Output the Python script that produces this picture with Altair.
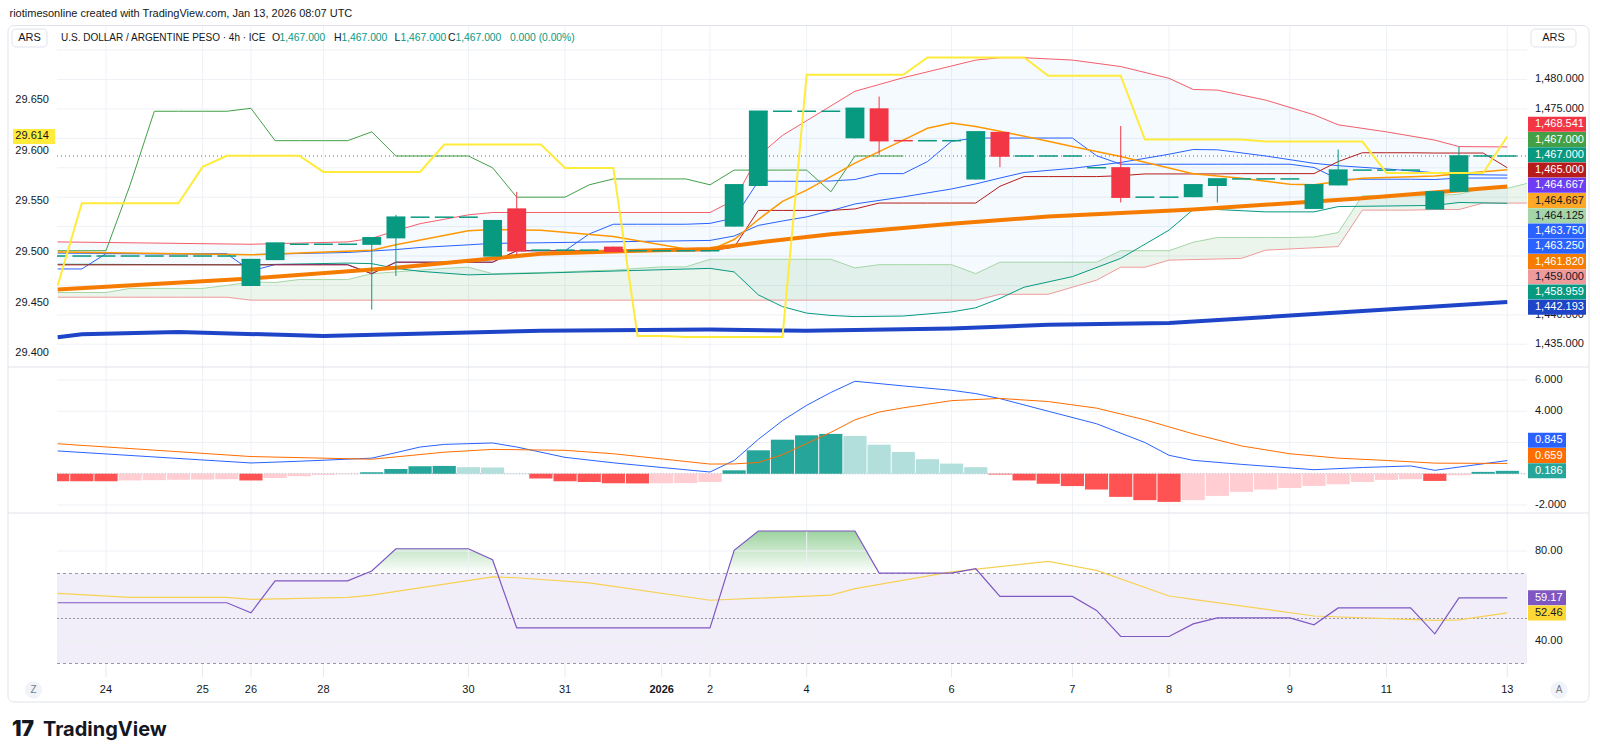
import altair as alt
import pandas as pd

FONT = "Liberation Sans, Arial, sans-serif"
INK = "#131722"
GRID = "#EEF1F6"
UP, DOWN = "#089981", "#F23645"

# plot-area geometry of the three panes
W = 1470
H_P, H_M, H_R = 341, 146, 154
X_DOM = [-2.028, 58.816]
P_DOM = [1431.14, 1489.09]
L_DOM = [29.3864, 29.7231]
M_DOM = [-2.512, 6.832]
R_DOM = [28.44, 96.89]

# ---------- time axis: one unit per 4h bar, bar 0 = Dec 24 ----------
bars = list(range(-2, 59))
tick_bar = [0, 4, 6, 9, 15, 19, 23, 25, 29, 35, 40, 44, 49, 53, 58]
tick_lbl = ["24", "25", "26", "28", "30", "31", "2026", "2", "4", "6", "7", "8", "9", "11", "13"]
# scale labels that stay visible beside the value tags
price_ticks = [1435, 1440, 1475, 1480]
price_grid = [1435, 1440, 1445, 1450, 1455, 1460, 1465, 1470, 1475, 1480, 1485]
left_ticks = [29.40, 29.45, 29.50, 29.55, 29.60, 29.65]
macd_ticks = [-2, 4, 6]
macd_grid = [-2, 0, 2, 4, 6]
rsi_ticks = [40, 80]
rsi_grid = [40, 60, 80]

# ---------- USD/ARS 4h candles ----------
open_ = [1450.0, 1450.0, 1450.0, 1450.0, 1450.0, 1450.0, 1450.0, 1450.0,
         1444.9, 1449.3, 1452.0, 1452.0, 1452.0, 1451.9, 1453.0,
         1456.6, 1456.6, 1456.6, 1449.9, 1458.1, 1451.0, 1451.0, 1451.0,
         1451.6, 1450.9, 1450.9, 1450.9, 1450.9, 1455.0, 1461.9,
         1474.6, 1474.6, 1474.6, 1470.0, 1475.1, 1469.7, 1469.6, 1469.6,
         1463.0, 1471.1, 1467.0, 1467.0, 1467.0, 1465.0, 1465.1,
         1460.0, 1460.0, 1460.0, 1461.9, 1463.1, 1463.1, 1463.1,
         1458.0, 1462.0, 1464.6, 1464.6, 1464.6, 1457.9, 1460.9,
         1467.0, 1467.0]
high = [1450.0, 1450.0, 1450.0, 1450.0, 1450.0, 1450.0, 1450.0, 1450.0,
        1449.4, 1452.2, 1452.0, 1452.0, 1452.0, 1453.1, 1457.0,
        1456.6, 1456.6, 1456.6, 1456.0, 1460.9, 1451.0, 1451.0, 1451.0,
        1451.6, 1450.9, 1450.9, 1450.9, 1450.9, 1462.1, 1474.6,
        1474.6, 1474.6, 1474.6, 1475.1, 1477.1, 1469.7, 1469.6, 1469.6,
        1471.1, 1471.1, 1467.0, 1467.0, 1467.0, 1465.0, 1472.1,
        1460.0, 1460.0, 1462.1, 1463.1, 1463.1, 1463.1, 1463.1,
        1462.1, 1468.1, 1464.6, 1464.6, 1464.6, 1460.9, 1468.6,
        1467.0, 1467.0]
low = [1450.0, 1450.0, 1450.0, 1450.0, 1450.0, 1450.0, 1450.0, 1450.0,
       1444.9, 1449.3, 1452.0, 1452.0, 1452.0, 1440.9, 1446.6,
       1456.6, 1456.6, 1456.6, 1449.9, 1450.2, 1451.0, 1451.0, 1451.0,
       1450.8, 1450.9, 1450.9, 1450.9, 1450.9, 1455.0, 1461.9,
       1474.6, 1474.6, 1474.6, 1470.0, 1467.2, 1469.6, 1469.6, 1469.6,
       1463.0, 1465.1, 1467.0, 1467.0, 1467.0, 1465.0, 1459.1,
       1460.0, 1460.0, 1460.0, 1459.1, 1463.1, 1463.1, 1463.1,
       1458.0, 1462.0, 1464.6, 1464.6, 1464.6, 1457.9, 1460.9,
       1467.0, 1467.0]
close = [1450.0, 1450.0, 1450.0, 1450.0, 1450.0, 1450.0, 1450.0, 1450.0,
         1449.4, 1452.2, 1452.0, 1452.0, 1452.0, 1453.1, 1456.6,
         1456.6, 1456.6, 1456.6, 1456.0, 1450.9, 1451.0, 1451.0, 1451.0,
         1450.8, 1450.9, 1450.9, 1450.9, 1450.9, 1462.1, 1474.6,
         1474.6, 1474.6, 1474.6, 1475.1, 1469.6, 1469.6, 1469.6, 1469.6,
         1471.1, 1467.0, 1467.0, 1467.0, 1467.0, 1465.0, 1460.0,
         1460.0, 1460.0, 1462.1, 1463.1, 1463.1, 1463.1, 1463.1,
         1462.1, 1464.6, 1464.6, 1464.6, 1464.6, 1460.9, 1467.0,
         1467.0, 1467.0]

# ---------- Bollinger Bands ----------
bb_bar = [-2, 6, 10, 11, 12, 13, 15, 16, 18, 25, 26, 27, 28, 29, 30, 31, 33,
          35, 36, 37, 38, 40, 42, 44, 45, 46, 48, 50, 51, 53, 55, 56, 58]
bb_upper = [1452.4, 1452.0, 1452.4, 1453.0, 1454.3, 1455.5, 1457.0, 1457.4, 1457.4,
            1457.4, 1459.5, 1467.0, 1470.5, 1473.0, 1475.5, 1478.0, 1480.3,
            1482.3, 1483.3, 1483.7, 1483.7, 1483.3, 1482.2, 1480.2, 1478.3, 1478.2,
            1476.5, 1474.0, 1472.3, 1471.1, 1469.7, 1468.6, 1468.541]
bb_lower = [1448.6, 1448.5, 1448.8, 1448.7, 1447.9, 1447.4, 1446.8, 1446.9, 1447.1,
            1447.9, 1447.3, 1443.4, 1441.4, 1440.3, 1439.9, 1439.7, 1439.8,
            1440.5, 1441.2, 1442.8, 1444.7, 1446.5, 1449.6, 1454.4, 1457.9, 1457.9,
            1457.5, 1457.5, 1458.4, 1458.5, 1458.6, 1459.1, 1458.959]

# ---------- Ichimoku ----------
tenkan = [1447.8, 1447.8, 1450.4, 1450.4, 1450.4, 1450.4, 1450.4, 1450.4,
          1447.45, 1448.55, 1448.55, 1448.55, 1448.55, 1447.0,
          1448.95, 1448.95, 1448.95, 1448.95, 1448.95, 1450.9, 1450.9, 1450.9,
          1453.75, 1455.4, 1455.4, 1455.4, 1455.4, 1455.55, 1456.45,
          1462.7, 1462.7, 1462.7, 1462.75, 1463.0, 1464.0, 1464.0, 1466.05, 1469.5,
          1470.05, 1470.05, 1470.05, 1470.05, 1470.05, 1467.05,
          1465.6, 1465.6, 1465.6, 1465.6, 1465.6, 1465.6, 1465.6, 1465.6,
          1465.05, 1463.05, 1463.05, 1463.05, 1463.05, 1463.0,
          1463.25, 1463.25, 1463.25]
kijun = [1448.5, 1448.5, 1448.5, 1448.5, 1448.5, 1448.5, 1448.5, 1448.5, 1448.5,
         1448.5, 1448.5, 1448.5, 1448.5, 1447.0,
         1448.95, 1448.95, 1448.95, 1448.95, 1448.95,
         1450.9, 1450.9, 1450.9, 1450.9, 1450.9, 1450.9, 1450.9, 1450.9, 1450.9,
         1451.5, 1457.75, 1457.75, 1457.75, 1457.75, 1458.0,
         1459.0, 1459.0, 1459.0, 1459.0, 1459.0, 1461.85,
         1463.5, 1463.5, 1463.5, 1463.5, 1463.65,
         1463.95, 1463.95, 1463.95, 1463.95, 1464.0, 1464.0, 1464.0, 1464.0,
         1466.05, 1467.55, 1467.55, 1467.55, 1467.5, 1467.5, 1467.5, 1465.0]
span_bar = list(range(-2, 60))
span_a = [1443.8, 1443.8, 1443.8, 1444.5, 1444.5, 1444.5, 1444.5, 1445.0, 1445.6, 1445.5,
          1446.0, 1446.0, 1446.0, 1447.0, 1447.3, 1447.6, 1447.9, 1448.1, 1447.0, 1447.1,
          1447.2, 1447.3, 1447.5, 1447.6, 1447.9, 1448.15, 1448.15,
          1449.45, 1449.45, 1449.45, 1449.45, 1449.45, 1449.45, 1447.98,
          1448.53, 1448.53, 1448.53, 1448.53, 1447.0,
          1448.95, 1448.95, 1448.95, 1448.95, 1448.95, 1450.9, 1450.9, 1450.9,
          1452.33, 1453.15, 1453.15, 1453.15, 1453.15, 1453.23, 1453.98,
          1460.23, 1460.23, 1460.23, 1460.25, 1460.5, 1461.5, 1461.5, 1462.53]
span_b = [1443.0, 1443.0, 1443.0, 1443.0, 1443.0, 1443.0, 1443.0, 1443.0,
          1442.5, 1442.5, 1442.5, 1442.5, 1442.5, 1442.5, 1442.5, 1442.5, 1442.5, 1442.5,
          1442.5, 1442.5, 1442.5, 1442.5, 1442.5, 1442.5, 1442.5, 1442.5, 1442.5, 1442.5,
          1442.5, 1442.5, 1442.5, 1442.5, 1442.5, 1442.5, 1442.5, 1442.5, 1442.5, 1442.5,
          1442.5, 1443.5, 1443.5, 1443.5, 1444.7, 1445.9, 1448.1, 1448.1, 1449.3, 1449.4,
          1449.5, 1449.6, 1451.0, 1451.2, 1451.4, 1451.6, 1457.8, 1457.8, 1457.8,
          1457.9, 1457.9, 1459.0, 1459.0, 1459.0]
LAG = 25

# ---------- moving averages ----------
ma_fast_bar = [-2, 6, 11, 12, 15, 16, 18, 21, 24, 25, 26, 27, 28, 29, 31, 33, 34, 35,
               36, 37, 39, 40, 42, 45, 47, 49, 50, 52, 55, 56, 58]
ma_fast = [1450.7, 1450.2, 1451.0, 1451.9, 1454.3, 1454.5, 1454.4, 1453.3, 1451.2, 1451.0,
           1452.8, 1456.2, 1459.3, 1461.2, 1465.8, 1469.7, 1471.7, 1472.6,
           1472.0, 1471.2, 1469.5, 1468.6, 1466.9, 1464.0, 1463.2, 1462.2, 1462.1, 1463.2,
           1463.6, 1464.0, 1464.667]
ma_violet_last = 1464.667
ema_mid_bar = [-2, 6, 12, 18, 22, 25, 27, 30, 35, 39, 45, 52, 58]
ema_mid = [1444.3, 1446.2, 1448.0, 1450.4, 1450.9, 1451.2, 1452.3, 1453.7, 1455.5,
           1456.7, 1457.9, 1459.8, 1461.82]
ema_slow_bar = [-2, -1, 3, 9, 18, 25, 29, 35, 39, 44, 58]
ema_slow = [1436.2, 1436.7, 1437.1, 1436.4, 1437.3, 1437.5, 1437.3, 1437.7, 1438.3,
            1438.6, 1442.193]

# ---------- comparison symbol (left scale) ----------
cmp_val = [29.467, 29.548, 29.548, 29.548, 29.548, 29.548, 29.584,
           29.595, 29.595, 29.595, 29.595, 29.579, 29.579, 29.579, 29.579, 29.579,
           29.606, 29.606, 29.606, 29.606, 29.606, 29.583, 29.583, 29.583,
           29.417, 29.417, 29.416, 29.416, 29.416, 29.416, 29.416,
           29.675, 29.675, 29.675, 29.675, 29.675, 29.692, 29.692, 29.692, 29.692, 29.692,
           29.674, 29.674, 29.674, 29.674, 29.611, 29.611, 29.611, 29.611, 29.611,
           29.609, 29.609, 29.609, 29.609, 29.609, 29.578, 29.578, 29.578, 29.578, 29.578,
           29.614]

# ---------- MACD ----------
macd_hist = [-0.48, -0.48, -0.48, -0.43, -0.41, -0.39, -0.37, -0.35, -0.43, -0.27, -0.16,
             -0.07, -0.03, 0.09, 0.31, 0.48, 0.50, 0.42, 0.40, 0.02, -0.31, -0.48, -0.53,
             -0.61, -0.62, -0.61, -0.60, -0.53, 0.22, 1.50, 2.18, 2.46, 2.55, 2.42, 1.86,
             1.39, 0.93, 0.65, 0.42, -0.05, -0.43, -0.64, -0.79, -1.01, -1.48, -1.69,
             -1.80, -1.69, -1.42, -1.16, -1.01, -0.91, -0.78, -0.67, -0.53, -0.39, -0.35,
             -0.46, -0.10, 0.12, 0.186]
macd_bar = [-2, 6, 8, 11, 12, 13, 14, 16, 17, 19, 21, 23, 25, 26, 27, 28, 29, 30, 31,
            33, 35, 36, 37, 39, 41, 43, 44, 45, 47, 50, 52, 54, 55, 58]
macd_line = [1.46, 0.69, 0.80, 1.0, 1.35, 1.71, 1.88, 1.97, 1.71, 1.05, 0.70, 0.40, 0.11,
             0.85, 2.2, 3.4, 4.38, 5.2, 5.92, 5.62, 5.34, 5.13, 4.81, 4.0, 3.2, 2.0,
             1.18, 0.86, 0.6, 0.26, 0.40, 0.50, 0.22, 0.845]
sig_bar = [-2, 6, 11, 14, 16, 19, 21, 25, 26, 27, 28, 29, 30, 31, 32, 33, 35, 37, 39,
           41, 43, 45, 47, 49, 51, 53, 55, 58]
sig_line = [1.92, 1.10, 0.93, 1.38, 1.56, 1.50, 1.28, 0.62, 0.63, 0.72, 1.22, 1.93, 2.65,
            3.45, 3.95, 4.22, 4.68, 4.82, 4.62, 4.20, 3.45, 2.55, 1.78, 1.28, 1.00, 0.85,
            0.68, 0.659]

# ---------- RSI ----------
rsi_bar = [-2, 5, 6, 7, 10, 11, 12, 15, 16, 17, 25, 26, 27, 31, 32, 35, 36, 37, 40, 41,
           42, 44, 45, 46, 49, 50, 51, 54, 55, 56, 58]
rsi_line = [57.0, 57.0, 52.5, 66.7, 66.7, 71.1, 81.0, 81.0, 76.1, 45.8, 45.8, 80.3, 88.9,
            88.9, 70.2, 70.2, 72.1, 59.8, 59.8, 53.6, 42.0, 42.0, 47.6, 50.3, 50.3, 47.2,
            54.7, 54.7, 43.2, 59.17, 59.17]
rsi_ma_bar = [-2, 1, 5, 6, 10, 11, 16, 17, 20, 25, 30, 31, 35, 39, 41, 44, 45, 50, 55,
              56, 58]
rsi_ma = [61.2, 59.4, 59.4, 58.5, 59.4, 60.4, 68.5, 68.1, 65.8, 58.1, 60.4, 63.3, 70.7,
          75.4, 71.4, 60.0, 58.5, 51.1, 49.2, 49.4, 52.46]

# ================= frames =================
ohlc = pd.DataFrame({"bar": bars, "open": open_, "high": high, "low": low, "close": close})
ohlc["b0"] = ohlc["bar"] - 0.39
ohlc["b1"] = ohlc["bar"] + 0.39
ohlc["dir"] = [UP if c >= o else DOWN for o, c in zip(open_, close)]

bb = pd.DataFrame({"bar": bb_bar, "up": bb_upper, "lo": bb_lower})
bb["mid"] = (bb["up"] + bb["lo"]) / 2
ich = pd.DataFrame({"bar": bars, "tenkan": tenkan, "kijun": kijun})
lag = pd.DataFrame({"bar": bars[:-LAG], "v": close[LAG:]})
span = pd.DataFrame({"bar": span_bar, "a": span_a, "b": span_b})
cmp_df = pd.DataFrame({"bar": bars, "v": cmp_val})

hist = pd.DataFrame({"bar": bars, "h": macd_hist})
hist["b0"] = hist["bar"] - 0.48
hist["b1"] = hist["bar"] + 0.48
hist["z"] = 0.0
prev = hist["h"].shift(1).fillna(hist["h"].iloc[0])
hist["col"] = [
    ("#26A69A" if p < h else "#B2DFDB") if h >= 0 else ("#FFCDD2" if p < h else "#FF5252")
    for p, h in zip(prev, hist["h"])
]

one = pd.DataFrame({"k": [0]})
ticks_df = pd.DataFrame({"bar": tick_bar, "lbl": tick_lbl})

xs = alt.Scale(domain=X_DOM, nice=False, zero=False)
ps = alt.Scale(domain=P_DOM, nice=False, zero=False)
ls = alt.Scale(domain=L_DOM, nice=False, zero=False)
ms = alt.Scale(domain=M_DOM, nice=False, zero=False)
rs = alt.Scale(domain=R_DOM, nice=False, zero=False)


def X(f="bar"):
    return alt.X(f"{f}:Q", scale=xs, axis=None)


def Yq(f, sc):
    return alt.Y(f"{f}:Q", scale=sc, axis=None)


def line(data, f, color, sc, width=1.0, xf="bar", **kw):
    return alt.Chart(data).mark_line(color=color, strokeWidth=width, clip=True, **kw).encode(
        x=X(xf), y=Yq(f, sc))


def text_at(txt, x, y, size=11, color=INK, align="left", weight="normal", font=FONT):
    return alt.Chart(one).mark_text(text=txt, align=align, baseline="middle", fontSize=size,
                                    color=color, fontWeight=weight, font=font).encode(
        x=alt.value(x), y=alt.value(y))


def box_at(x0, x1, y0, y1, stroke="#E0E3EB", fill="white", radius=4, sw=1):
    return alt.Chart(one).mark_rect(fill=fill, stroke=stroke, strokeWidth=sw,
                                    cornerRadius=radius).encode(
        x=alt.value(x0), x2=alt.value(x1), y=alt.value(y0), y2=alt.value(y1))


def vgrid(h):
    return alt.Chart(ticks_df).mark_rule(color=GRID, strokeWidth=1).encode(
        x=X(), y=alt.value(0), y2=alt.value(h))


def hgrid(vals, sc):
    return alt.Chart(pd.DataFrame({"v": vals})).mark_rule(color=GRID, strokeWidth=1).encode(
        x=alt.value(0), x2=alt.value(W), y=Yq("v", sc))


def scale_labels(vals, fmt, sc, x=1478, align="left"):
    d = pd.DataFrame({"v": vals})
    d["lbl"] = [format(v, fmt) for v in vals]
    return alt.Chart(d).mark_text(align=align, baseline="middle", fontSize=11, font=FONT,
                                  color=INK).encode(x=alt.value(x), y=Yq("v", sc), text="lbl:N")


# ================= price pane =================
canvas = alt.Chart(one).mark_rect(fill="transparent").encode(
    x=alt.value(-57), x2=alt.value(1543), y=alt.value(-26), y2=alt.value(730))
frame = alt.Chart(one).mark_rect(fill="transparent", stroke="#E0E3EB", strokeWidth=1,
                                 cornerRadius=6).encode(
    x=alt.value(-49), x2=alt.value(1532), y=alt.value(-0.5), y2=alt.value(676))

cloud = alt.Chart(span).mark_area(color="#43A047", opacity=0.1, clip=True).encode(
    x=X(), y=Yq("a", ps), y2="b")
bb_fill = alt.Chart(bb).mark_area(color="#2196F3", opacity=0.05, clip=True).encode(
    x=X(), y=Yq("up", ps), y2="lo")

price_lines = [
    line(span, "a", "#A5D6A7", ps),
    line(span, "b", "#EF9A9A", ps),
    line(bb, "lo", UP, ps),
    line(bb, "up", DOWN, ps, opacity=0.8),
    line(bb, "mid", "#2962FF", ps),
    line(ich, "tenkan", "#2962FF", ps),
    line(ich, "kijun", "#B71C1C", ps),
    line(lag, "v", "#43A047", ps),
    line(pd.DataFrame({"bar": ma_fast_bar, "v": ma_fast}), "v", "#FF9800", ps, 1.5),
    line(pd.DataFrame({"bar": ema_slow_bar, "v": ema_slow}), "v", "#1E44C8", ps, 4),
    line(pd.DataFrame({"bar": ema_mid_bar, "v": ema_mid}), "v", "#F57C00", ps, 4),
]

last_px = alt.Chart(pd.DataFrame({"v": [close[-1]]})).mark_rule(
    color=UP, strokeDash=[1, 3], strokeWidth=1).encode(
    x=alt.value(0), x2=alt.value(W), y=Yq("v", ps))

wick = alt.Chart(ohlc).mark_rule(strokeWidth=1, clip=True).encode(
    x=X(), y=Yq("low", ps), y2="high", color=alt.Color("dir:N", scale=None))
body = alt.Chart(ohlc).mark_rect(clip=True).encode(
    x=X("b0"), x2="b1", y=Yq("open", ps), y2="close", color=alt.Color("dir:N", scale=None))
flat = alt.Chart(ohlc).mark_rule(strokeWidth=1.5, clip=True).encode(
    x=X("b0"), x2="b1", y=Yq("close", ps), color=alt.Color("dir:N", scale=None))

# price-scale tags, stacked downward from the top slot
tag_vals = [bb_upper[-1], close[-1], close[-1], kijun[-1], ma_violet_last, ma_fast[-1],
            (tenkan[-1] + kijun[-1]) / 2, (bb_upper[-1] + bb_lower[-1]) / 2, tenkan[-1],
            ema_mid[-1], span_b[-1], bb_lower[-1], ema_slow[-1]]
tag_bg = [DOWN, "#43A047", UP, "#B71C1C", "#6E3CF5", "#FFA726", "#A5D6A7", "#2962FF",
          "#2962FF", "#F57C00", "#EF9A9A", UP, "#1E44C8"]
tag_fg = ["white", "white", "white", "white", "white", INK, INK, "white", "white",
          "white", INK, "white", "white"]
tags = pd.DataFrame({"v": tag_vals, "bg": tag_bg, "fg": tag_fg})
tags["lbl"] = [f"{v:,.3f}" for v in tags["v"]]
tags["py"] = [1472.39 - k * 2.592 for k in range(len(tags))]
tag_box = alt.Chart(tags).mark_rule(strokeWidth=15).encode(
    x=alt.value(1471), x2=alt.value(1529), y=Yq("py", ps), color=alt.Color("bg:N", scale=None))
tag_txt = alt.Chart(tags).mark_text(align="left", baseline="middle", fontSize=11,
                                    font=FONT).encode(
    x=alt.value(1478), y=Yq("py", ps), text="lbl:N", color=alt.Color("fg:N", scale=None))

# legend row
leg = pd.DataFrame({
    "t": ["U.S. DOLLAR / ARGENTINE PESO · 4h · ICE", "O", f"{open_[-1]:,.3f}", "H",
          f"{high[-1]:,.3f}", "L", f"{low[-1]:,.3f}", "C", f"{close[-1]:,.3f}",
          f"{close[-1] - close[-2]:.3f} ({(close[-1] / close[-2] - 1) * 100:.2f}%)"],
    "x": [4, 215, 222.5, 277, 284.5, 337.6, 343.5, 391, 398.5, 453],
    "s": [10, 10.5, 10.3, 10.5, 10.3, 10.5, 10.3, 10.5, 10.3, 10.3],
    "c": [INK, INK, UP, INK, UP, INK, UP, INK, UP, UP],
})
legend = alt.Chart(leg).mark_text(align="left", baseline="middle", font=FONT).encode(
    x=alt.X("x:Q", scale=None), y=alt.value(12), text="t:N",
    size=alt.Size("s:Q", scale=None, legend=None), color=alt.Color("c:N", scale=None))

price_main = alt.layer(
    canvas, vgrid(H_P), hgrid(price_grid, ps), cloud, bb_fill, *price_lines, last_px,
    wick, body, flat, scale_labels(price_ticks, ",.3f", ps), tag_box, tag_txt, frame,
    text_at("riotimesonline created with TradingView.com, Jan 13, 2026 08:07 UTC", -47.5, -12),
    box_at(-45, -10, 3, 21), text_at("ARS", -27.5, 12, align="center"),
    box_at(1474, 1519, 3, 21), text_at("ARS", 1496.5, 12, align="center"),
    legend,
)

cmp_line = alt.Chart(cmp_df).mark_line(color="#FFEB3B", strokeWidth=2, clip=True).encode(
    x=X(), y=Yq("v", ls))
cmp_tag = pd.DataFrame({"v": [cmp_val[-1]]})
cmp_tag["lbl"] = [f"{v:.3f}" for v in cmp_tag["v"]]
cmp_box = alt.Chart(cmp_tag).mark_rule(strokeWidth=15, color="#FFEB3B").encode(
    x=alt.value(-44), x2=alt.value(-2), y=Yq("v", ls))
cmp_txt = alt.Chart(cmp_tag).mark_text(align="right", baseline="middle", fontSize=11,
                                       font=FONT, color=INK).encode(
    x=alt.value(-8), y=Yq("v", ls), text="lbl:N")

price = alt.layer(
    price_main,
    alt.layer(cmp_line, scale_labels(left_ticks, ".3f", ls, x=-8, align="right"),
              cmp_box, cmp_txt),
).resolve_scale(y="independent").properties(width=W, height=H_P)

# ================= MACD pane =================
zero = alt.Chart(pd.DataFrame({"v": [0.0]})).mark_rule(
    color="#B2B5BE", strokeDash=[1, 2]).encode(x=alt.value(0), x2=alt.value(W), y=Yq("v", ms))
bars_h = alt.Chart(hist).mark_rect(clip=True).encode(
    x=X("b0"), x2="b1", y=Yq("h", ms), y2="z", color=alt.Color("col:N", scale=None))
macd_l = line(pd.DataFrame({"bar": macd_bar, "v": macd_line}), "v", "#2962FF", ms)
sig_l = line(pd.DataFrame({"bar": sig_bar, "v": sig_line}), "v", "#FF6D00", ms)
mtags = pd.DataFrame({"v": [macd_line[-1], sig_line[-1], macd_hist[-1]],
                      "bg": ["#2962FF", "#FF6D00", "#26A69A"]})
mtags["lbl"] = [f"{v:.3f}" for v in mtags["v"]]
mtags["py"] = [macd_hist[-1] + (2 - k) * 0.98 for k in range(3)]
mtag_box = alt.Chart(mtags).mark_rule(strokeWidth=15).encode(
    x=alt.value(1471), x2=alt.value(1509), y=Yq("py", ms), color=alt.Color("bg:N", scale=None))
mtag_txt = alt.Chart(mtags).mark_text(align="left", baseline="middle", fontSize=11,
                                      font=FONT, color="white").encode(
    x=alt.value(1478), y=Yq("py", ms), text="lbl:N")
sep_m = alt.Chart(one).mark_rule(color="#E0E3EB", strokeWidth=1).encode(
    x=alt.value(-49), x2=alt.value(1532), y=alt.value(0))

macd = alt.layer(
    vgrid(H_M), hgrid(macd_grid, ms), zero, bars_h, macd_l, sig_l,
    scale_labels(macd_ticks, ".3f", ms), mtag_box, mtag_txt, sep_m,
).properties(width=W, height=H_M)

# ================= RSI pane =================
rsi_df = pd.DataFrame({"bar": rsi_bar, "v": rsi_line})
rsi_df["ob"] = 70.0
top_v, bot_v = max(rsi_line), min(rsi_line)
off70 = (top_v - 70) / (top_v - bot_v)
ob_fill = alt.Chart(rsi_df).mark_area(clip=True, color=alt.Gradient(
    gradient="linear", x1=0, x2=0, y1=0, y2=1,
    stops=[alt.GradientStop(color="rgba(76,175,80,0.55)", offset=0),
           alt.GradientStop(color="rgba(76,175,80,0.0)", offset=off70),
           alt.GradientStop(color="rgba(76,175,80,0.0)", offset=1)])).encode(
    x=X(), y=Yq("v", rs), y2="ob")
band_df = pd.DataFrame({"hi": [70.0], "lo": [30.0]})
band = alt.Chart(band_df).mark_rect(color="#F2EEF9").encode(
    x=alt.value(0), x2=alt.value(W), y=Yq("hi", rs), y2="lo")
lvl_df = pd.DataFrame({"v": [70.0, 50.0, 30.0], "d": ["a", "b", "a"]})
levels = alt.Chart(lvl_df).mark_rule(color="#9598A1", strokeWidth=1).encode(
    x=alt.value(0), x2=alt.value(W), y=Yq("v", rs),
    strokeDash=alt.StrokeDash("d:N", scale=alt.Scale(domain=["a", "b"], range=[[3, 3], [2, 2]]),
                              legend=None))
rsi_ma_l = line(pd.DataFrame({"bar": rsi_ma_bar, "v": rsi_ma}), "v", "#F7D154", rs, 1.2)
rsi_l = line(rsi_df, "v", "#7E57C2", rs, 1.2)
rtags = pd.DataFrame({"v": [rsi_line[-1], rsi_ma[-1]], "bg": ["#7E57C2", "#FDD835"],
                      "fg": ["white", INK]})
rtags["lbl"] = [f"{v:.2f}" for v in rtags["v"]]
rtag_box = alt.Chart(rtags).mark_rule(strokeWidth=15).encode(
    x=alt.value(1471), x2=alt.value(1509), y=Yq("v", rs), color=alt.Color("bg:N", scale=None))
rtag_txt = alt.Chart(rtags).mark_text(align="left", baseline="middle", fontSize=11,
                                      font=FONT).encode(
    x=alt.value(1478), y=Yq("v", rs), text="lbl:N", color=alt.Color("fg:N", scale=None))
sep_r = alt.Chart(one).mark_rule(color="#E0E3EB", strokeWidth=1).encode(
    x=alt.value(-49), x2=alt.value(1532), y=alt.value(0))

# time-scale ticks and labels under the last pane
x_ticks = alt.Chart(ticks_df).mark_rule(color="#E6E9EF", strokeWidth=1).encode(
    x=X(), y=alt.value(H_R), y2=alt.value(H_R + 10))
x_lbl = alt.Chart(ticks_df).transform_filter("datum.lbl != '2026'").mark_text(
    baseline="middle", fontSize=11, font=FONT, color=INK).encode(
    x=X(), y=alt.value(177), text="lbl:N")
x_year = alt.Chart(ticks_df).transform_filter("datum.lbl == '2026'").mark_text(
    baseline="middle", fontSize=11, font=FONT, color=INK, fontWeight="bold").encode(
    x=X(), y=alt.value(177), text="lbl:N")

btn = pd.DataFrame({"x": [-23.5, 1502.0], "t": ["Z", "A"]})
btn_dot = alt.Chart(btn).mark_circle(size=300, color="#F0F3FA", opacity=1).encode(
    x=alt.X("x:Q", scale=None), y=alt.value(177))
btn_txt = alt.Chart(btn).mark_text(fontSize=10, color="#787B86", font=FONT).encode(
    x=alt.X("x:Q", scale=None), y=alt.value(177), text="t:N")

rsi = alt.layer(
    ob_fill, band, vgrid(H_R), hgrid(rsi_grid, rs), levels, rsi_ma_l, rsi_l,
    scale_labels(rsi_ticks, ".2f", rs), rtag_box, rtag_txt, sep_r,
    x_ticks, x_lbl, x_year, btn_dot, btn_txt,
    text_at("17", -45, 217, size=21, weight=900, font="Inter, Roboto, sans-serif"),
    text_at("TradingView", -14, 217, size=20, weight="bold", font="Inter, Roboto, sans-serif"),
).properties(width=W, height=H_R)

chart = alt.vconcat(price, macd, rsi, spacing=0, bounds="flush").properties(
    padding=0, background="white").configure_view(stroke=None)

chart.save("out.html", embed_options={"renderer": "svg", "actions": False})
